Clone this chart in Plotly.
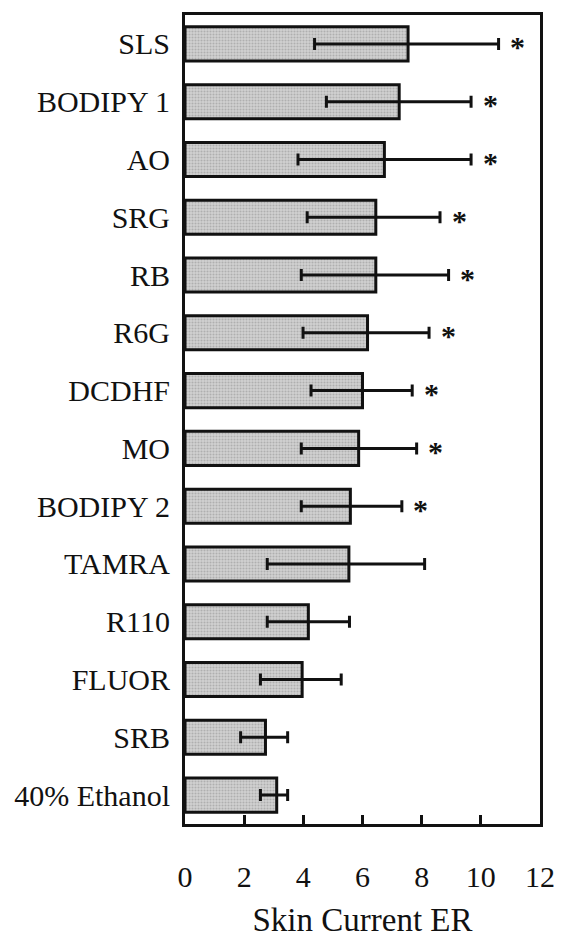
import plotly.graph_objects as go

categories = ["SLS", "BODIPY 1", "AO", "SRG", "RB", "R6G", "DCDHF", "MO",
              "BODIPY 2", "TAMRA", "R110", "FLUOR", "SRB", "40% Ethanol"]
means = [7.54, 7.24, 6.74, 6.45, 6.45, 6.17, 6.0, 5.87, 5.59, 5.54, 4.17, 3.96, 2.72, 3.1]
err_low = [4.38, 4.78, 3.82, 4.13, 3.93, 3.99, 4.26, 3.93, 3.93, 2.78, 2.78, 2.55, 1.88, 2.55]
err_high = [10.6, 9.67, 9.67, 8.62, 8.91, 8.25, 7.68, 7.83, 7.33, 8.1, 5.56, 5.28, 3.47, 3.47]
significant = [True] * 9 + [False] * 5
x_ticks = [0, 2, 4, 6, 8, 10, 12]

FONT = "Liberation Serif"

fig = go.Figure()
fig.add_trace(go.Bar(
    y=categories,
    x=means,
    orientation="h",
    width=0.59,
    marker=dict(
        color="#c8c8c8",
        line=dict(color="#111111", width=3),
        pattern=dict(shape=".", size=3, solidity=0.4, fgcolor="#8c8c8c", bgcolor="#d2d2d2"),
    ),
    error_x=dict(
        type="data",
        symmetric=False,
        array=[h - m for h, m in zip(err_high, means)],
        arrayminus=[m - l for m, l in zip(means, err_low)],
        color="#111111",
        thickness=3,
        width=6,
    ),
    showlegend=False,
))

for cat, hi, sig in zip(categories, err_high, significant):
    if sig:
        fig.add_annotation(
            x=hi, y=cat, text="<b>*</b>", showarrow=False,
            xanchor="center", yanchor="middle", xshift=19, yshift=-3,
            font=dict(family=FONT, size=30, color="#111111"),
        )

fig.update_layout(
    width=567, height=944,
    margin=dict(l=185, r=19, t=12, b=119),
    paper_bgcolor="white", plot_bgcolor="white",
    font=dict(family=FONT, size=30, color="#111111"),
    bargap=0.41,
)
fig.update_xaxes(
    range=[0, 12], tickvals=x_ticks, ticktext=[str(v) for v in x_ticks],
    ticks="inside", ticklen=9, tickwidth=2.5, tickcolor="#111111",
    showline=True, linewidth=3, linecolor="#111111", mirror=True,
    showgrid=False, zeroline=False,
    ticklabelstandoff=24,
    tickfont=dict(family=FONT, size=30),
    title=dict(text="Skin Current ER", font=dict(family=FONT, size=33), standoff=16),
)
fig.update_yaxes(
    autorange="reversed", categoryorder="array", categoryarray=categories,
    ticks="", showline=True, linewidth=3, linecolor="#111111", mirror=True,
    showgrid=False, ticklabelstandoff=6,
    tickfont=dict(family=FONT, size=30),
)

fig.write_html("out.html")
